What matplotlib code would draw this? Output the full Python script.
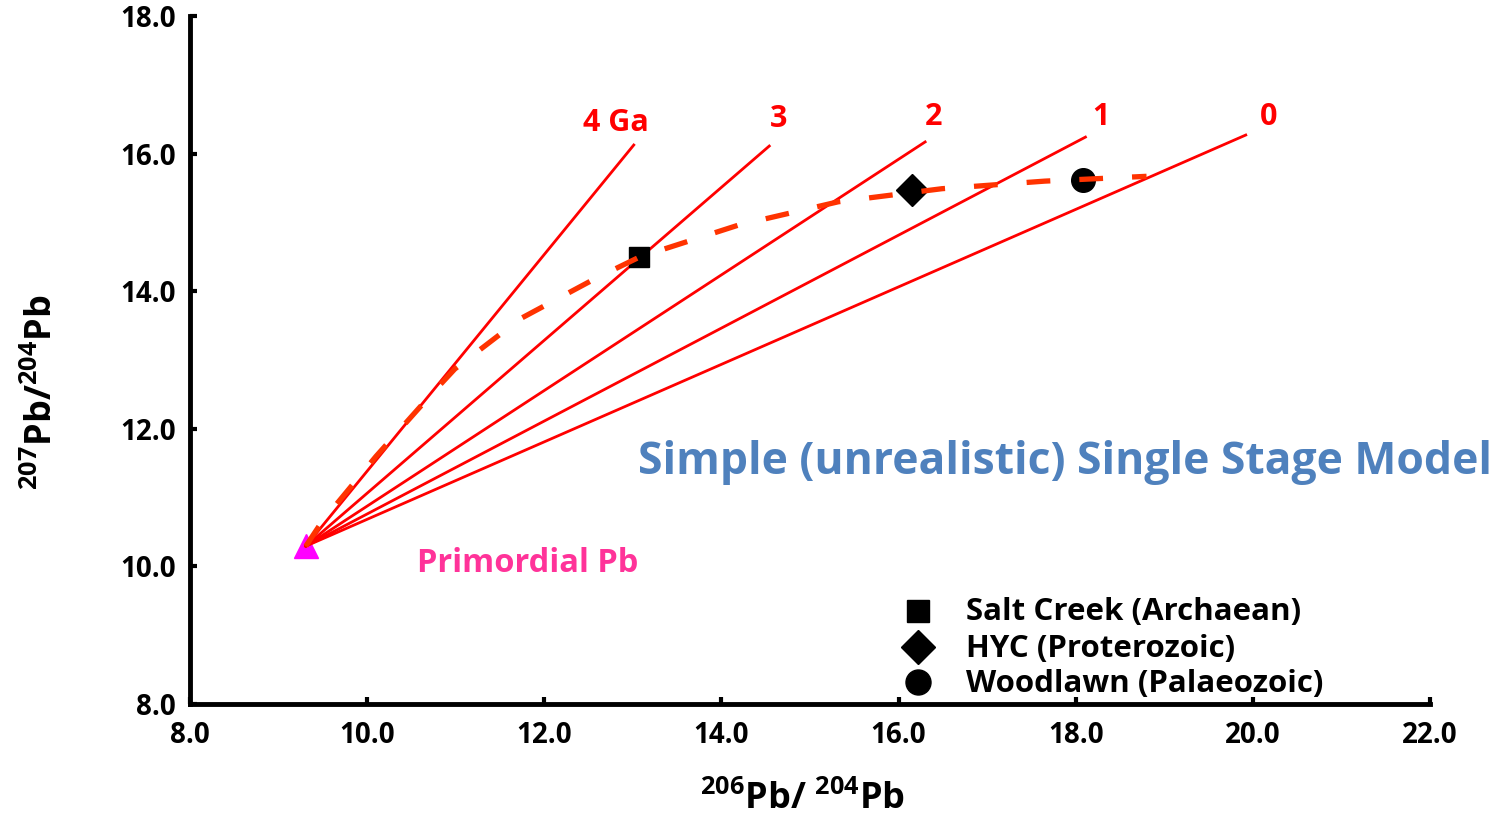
import matplotlib.pyplot as plt

plt.rcParams['font.family'] = ['Open Sans', 'DejaVu Sans']
plt.rcParams['font.weight'] = 'bold'
plt.rcParams['mathtext.fontset'] = 'custom'
plt.rcParams['mathtext.rm'] = 'Open Sans:bold'
plt.rcParams['mathtext.bf'] = 'Open Sans:bold'

# primordial lead (Canyon Diablo troilite)
primordial = (9.307, 10.294)

# isochron end points for each age
iso_ages = ['4 Ga', '3', '2', '1', '0']
iso_x = [13.01, 14.54, 16.30, 18.11, 19.92]
iso_y = [16.125, 16.11, 16.17, 16.24, 16.27]

# single stage growth curve
growth_x = [9.307, 9.49, 10.10, 10.73, 10.99, 11.73, 12.57, 13.08, 14.19, 15.32, 16.49, 17.65, 18.80]
growth_y = [10.294, 10.65, 11.60, 12.51, 12.87, 13.60, 14.18, 14.50, 14.96, 15.30, 15.49, 15.60, 15.67]

# ore deposits
ore_names = ['Salt Creek (Archaean)', 'HYC (Proterozoic)', 'Woodlawn (Palaeozoic)']
ore_x = [13.07, 16.15, 18.08]
ore_y = [14.50, 15.47, 15.61]
ore_markers = ['s', 'D', 'o']

fig = plt.figure(figsize=(15, 8.22), dpi=100)
ax = fig.add_axes([0.1267, 0.1436, 0.8266, 0.8369])

for i, age in enumerate(iso_ages):
    ax.plot([primordial[0], iso_x[i]], [primordial[1], iso_y[i]], color='#FF0000', lw=2, zorder=3)

ax.plot(*primordial, marker='^', color='#FF00FF', ms=17, zorder=2)

# sample markers, legend entries drawn by hand
marker_size = {'s': 15, 'D': 16, 'o': 17}
for i, name in enumerate(ore_names):
    ax.plot(ore_x[i], ore_y[i], marker=ore_markers[i], color='black', ms=marker_size[ore_markers[i]], ls='none', zorder=4)

ax.plot(growth_x, growth_y, color='#FF3300', lw=3.8, ls=(0, (4.5, 5.5)), zorder=5)

# age labels on the isochrons
label_pos = [(12.81, 16.44), (14.64, 16.50), (16.40, 16.53), (18.28, 16.53), (20.18, 16.53)]
for age, (lx, ly) in zip(iso_ages, label_pos):
    ax.text(lx, ly, age, color='#FF0000', fontsize=22, fontweight='bold', ha='center', va='center')

fig.text(0.352, 0.315, 'Primordial Pb', color='#FF3399',
         fontsize=23.5, fontweight='bold', ha='center', va='center')
fig.text(0.710, 0.437, 'Simple (unrealistic) Single Stage Model',
         color='#4F81BD', fontsize=32, fontweight='bold', ha='center', va='center')

leg_y = [0.255, 0.211, 0.168]
for i, name in enumerate(ore_names):
    fig.lines.append(plt.Line2D([0.612], [leg_y[i] + 0.002], transform=fig.transFigure, marker=ore_markers[i],
                                color='black', ms=marker_size[ore_markers[i]] + 1, ls='none'))
    fig.text(0.644, leg_y[i], name, fontsize=22.5, fontweight='bold', ha='left', va='center')

ax.set_xlim(8, 22)
ax.set_ylim(8, 18)
ax.set_xticks([8, 10, 12, 14, 16, 18, 20, 22])
ax.set_yticks([8, 10, 12, 14, 16, 18])
ax.set_xticklabels([f'{v:.1f}' for v in ax.get_xticks()], fontweight='bold')
ax.set_yticklabels([f'{v:.1f}' for v in ax.get_yticks()], fontweight='bold')
ax.tick_params(direction='in', length=5, width=3, labelsize=20, pad=12)
ax.tick_params(axis='y', pad=10)

for side in ['top', 'right']:
    ax.spines[side].set_visible(False)
for side in ['left', 'bottom']:
    ax.spines[side].set_linewidth(3.5)

ax.set_xlabel(r'$^{206}$Pb/ $^{204}$Pb', fontsize=26, fontweight='bold', va='center')
ax.set_ylabel(r'$^{207}$Pb/$^{204}$Pb', fontsize=26, fontweight='bold', va='center')
ax.xaxis.set_label_coords(0.494, -0.14)
ax.yaxis.set_label_coords(-0.119, 0.453)

fig.savefig('out.png', dpi=100)
